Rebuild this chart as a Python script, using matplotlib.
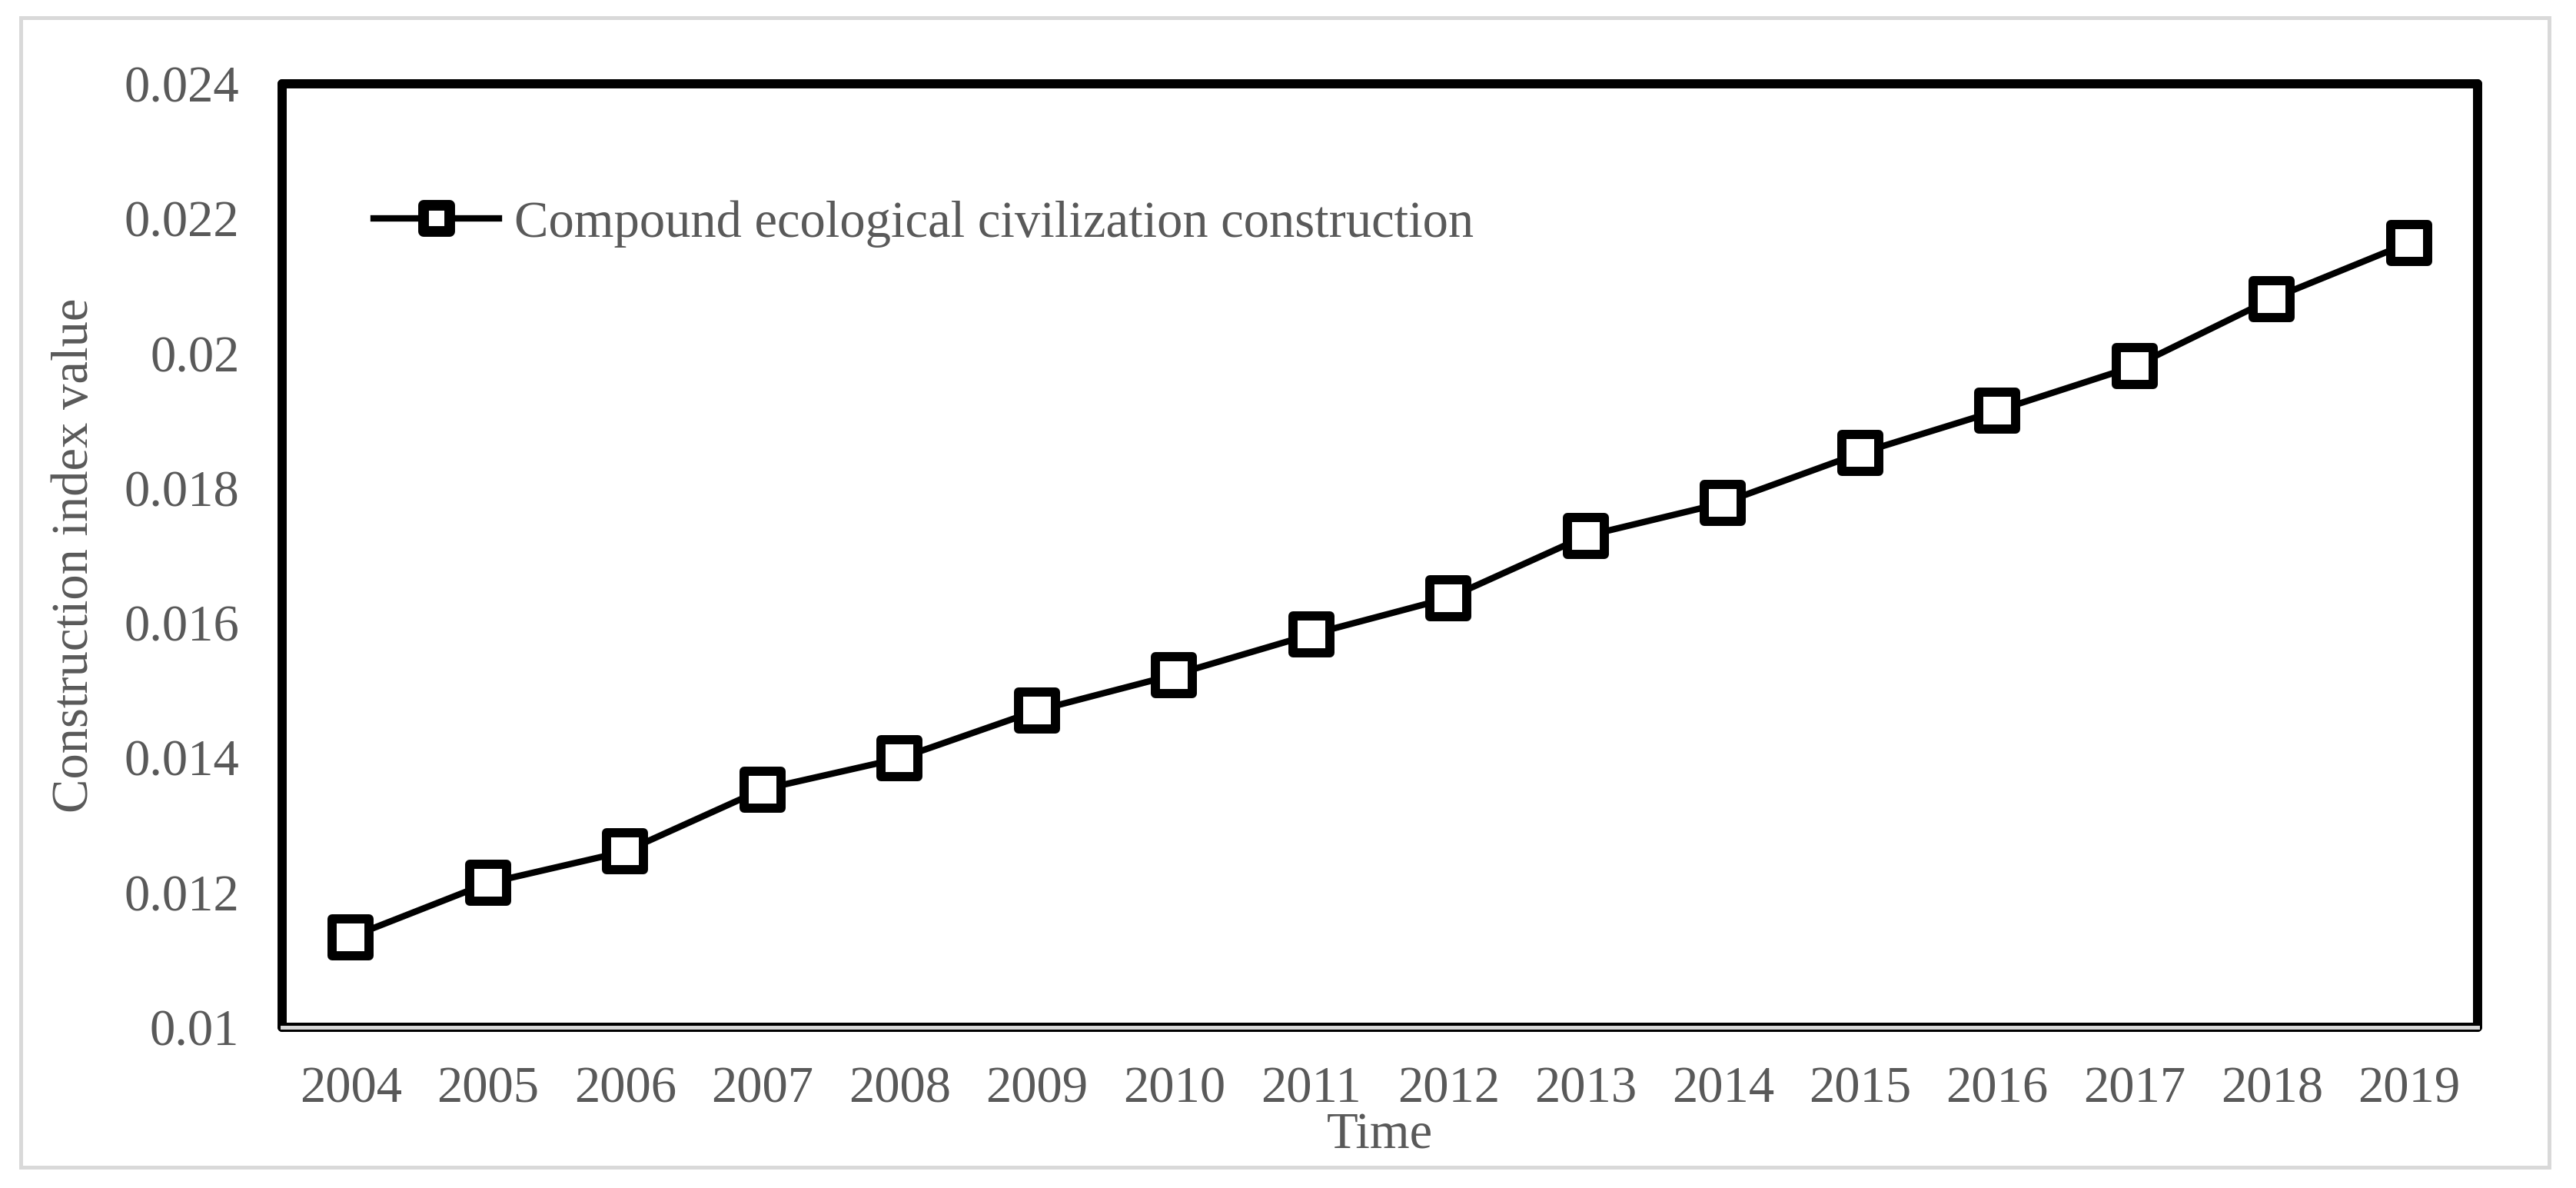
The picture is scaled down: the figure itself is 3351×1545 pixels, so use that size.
import matplotlib
matplotlib.use("Agg")
import matplotlib.pyplot as plt
from matplotlib.lines import Line2D
from matplotlib.markers import MarkerStyle
from matplotlib.patches import Rectangle

years = ["2004", "2005", "2006", "2007", "2008", "2009", "2010", "2011",
         "2012", "2013", "2014", "2015", "2016", "2017", "2018", "2019"]
values = [0.01134, 0.01214, 0.01261, 0.01353, 0.01399, 0.01470, 0.01523, 0.01583,
          0.01637, 0.01729, 0.01778, 0.01852, 0.01915, 0.01981, 0.02081, 0.02164]
yticks = [0.01, 0.012, 0.014, 0.016, 0.018, 0.02, 0.022, 0.024]
ytick_labels = ["0.01", "0.012", "0.014", "0.016", "0.018", "0.02", "0.022", "0.024"]
series_name = "Compound ecological civilization construction"

W, H, DPI = 3351, 1545, 200
plt.rcParams['font.family'] = ['Liberation Serif', 'DejaVu Serif']
gray = "#595959"
fs = 24

fig = plt.figure(figsize=(W / DPI, H / DPI), dpi=DPI)
ax = fig.add_axes([367 / W, 1 - 1336 / H, (3223 - 367) / W, (1336 - 109) / H])

x = list(range(len(years)))
msq = MarkerStyle('s', joinstyle='round')
ax.plot(x, values, color='black', lw=3.0, marker=msq, ms=17.6,
        mfc='white', mec='black', mew=4.3, solid_joinstyle='round', zorder=3,
        clip_on=False)

ax.set_xlim(-0.5, len(years) - 0.5)
ax.set_ylim(0.01, 0.024)
ax.set_xticks(x)
ax.set_xticklabels(years)
ax.set_yticks(yticks)
ax.set_yticklabels(ytick_labels)
ax.tick_params(axis='both', length=0, labelsize=fs, labelcolor=gray)
ax.tick_params(axis='y', pad=20)
ax.tick_params(axis='x', pad=18)

for s in ax.spines.values():
    s.set_linewidth(4.3)
    s.set_color('black')
    s.set_capstyle('round')
    s.set_joinstyle('round')

# gray axis line on the bottom border
ax.axhline(0.01, color='#d9d9d9', lw=1.8, zorder=5, clip_on=False)

ax.set_ylabel("Construction index value", fontsize=fs, color=gray, labelpad=12)
ax.set_xlabel("Time", fontsize=fs, color=gray, labelpad=0)

handle = Line2D([], [], color='black', lw=3.0, marker=msq, ms=12,
                mfc='white', mec='black', mew=5)
leg = ax.legend([handle], [series_name], loc='center left',
                bbox_to_anchor=(486 / W, 1 - 291 / H), bbox_transform=fig.transFigure,
                frameon=False, fontsize=fs, handlelength=2.45, handletextpad=0.3,
                borderpad=0, borderaxespad=0)
for t in leg.get_texts():
    t.set_color(gray)

fig.patches.append(Rectangle((27 / W, 1 - 1518 / H), (3316 - 27) / W, (1518 - 23) / H,
                             transform=fig.transFigure, fill=False,
                             edgecolor='#d9d9d9', lw=1.8, zorder=0))

fig.savefig("out.png", dpi=DPI)
